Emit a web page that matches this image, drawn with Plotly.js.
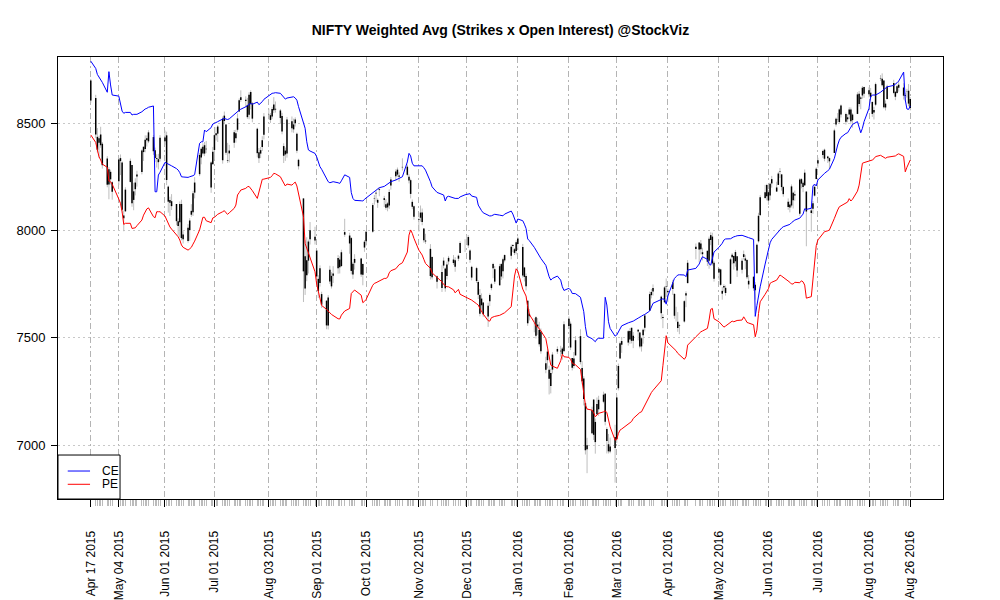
<!DOCTYPE html>
<html>
<head>
<meta charset="utf-8">
<script src="https://cdn.plot.ly/plotly-3.0.1.min.js"></script>
<style>
html,body{margin:0;padding:0;background:#ffffff;}
#chart{width:1000px;height:600px;}
</style>
</head>
<body>
<div id="chart"></div>
<script>
// ---- trading calendar (NSE sessions), one row of day numbers per month ----
const monthKeys = ['2015-04','2015-05','2015-06','2015-07','2015-08','2015-09','2015-10','2015-11','2015-12',
                   '2016-01','2016-02','2016-03','2016-04','2016-05','2016-06','2016-07','2016-08'];
const monthDays = [
  [17,20,21,22,23,24,27,28,29,30],
  [4,5,6,7,8,11,12,13,14,15,18,19,20,21,22,25,26,27,28,29],
  [1,2,3,4,5,8,9,10,11,12,15,16,17,18,19,22,23,24,25,26,29,30],
  [1,2,3,6,7,8,9,10,13,14,15,16,17,20,21,22,23,24,27,28,29,30,31],
  [3,4,5,6,7,10,11,12,13,14,17,18,19,20,21,24,25,26,27,28,31],
  [1,2,3,4,7,8,9,10,11,14,15,16,18,21,22,23,24,28,29,30],
  [1,5,6,7,8,9,12,13,14,15,16,19,20,21,23,26,27,28,29,30],
  [2,3,4,5,6,9,10,13,16,17,18,19,20,23,24,26,27,30],
  [1,2,3,4,7,8,9,10,11,14,15,16,17,18,21,22,23,24,28,29,30,31],
  [1,4,5,6,7,8,11,12,13,14,15,18,19,20,21,22,25,27,28,29],
  [1,2,3,4,5,8,9,10,11,12,15,16,17,18,19,22,23,24,25,26,29],
  [1,2,3,4,8,9,10,11,14,15,16,17,18,21,22,23,28,29,30,31],
  [1,4,5,6,7,8,11,12,13,18,20,21,22,25,26,27,28,29],
  [2,3,4,5,6,9,10,11,12,13,16,17,18,19,20,23,24,25,26,27,30,31],
  [1,2,3,6,7,8,9,10,13,14,15,16,17,20,21,22,23,24,27,28,29,30],
  [1,4,5,7,8,11,12,13,14,15,18,19,20,21,22,25,26,27,28,29],
  [1,2,3,4,5,8,9,10,11,12,16,17,18,19,22,23,24,25,26]
];

// ---- NIFTY OHLC ----
const openVals = [
  8700,8618,8437,8409,8448,8405,8336,8215,8274,8225,
  8230,8338,8317,8070,8090,8227,8306,8143,8193,8252,8273,8391,8380,8431,8416,8436,8375,8338,8333,8335,
  8417,8444,8205,8143,8137,8124,8044,8039,8124,7960,7951,8002,8074,8086,8177,8263,8341,8391,8359,8379,8201,8309,
  8376,8454,8452,8328,8536,8495,8325,8373,8410,8431,8470,8555,8622,8610,8586,8540,8646,8593,8475,8365,8359,8390,8447,
  8542,8538,8532,8561,8568,8560,8534,8394,8373,8360,8510,8472,8500,8451,8330,8150,7730,7862,7860,7960,7954,
  7907,7775,7756,7704,7673,7557,7763,7740,7800,7825,7865,7835,7993,7940,7965,7795,7850,7870,7794,7921,
  7995,7995,8150,8173,8143,8193,8151,8123,8127,8117,8210,8253,8284,8257,8297,8298,8251,8235,8134,8113,
  8054,8084,8084,8010,7949,7788,7877,7787,7732,7860,7823,7788,7873,7865,7862,7869,7895,7935,
  7954,7970,7907,7831,7825,7760,7700,7652,7665,7600,7671,7732,7825,7820,7745,7844,7811,7886,7883,7933,7913,7905,
  7938,7924,7828,7788,7673,7612,7563,7596,7552,7470,7529,7381,7396,7351,7336,7352,7448,7440,7450,7438,
  7589,7566,7406,7369,7418,7508,7359,7310,7195,6999,7055,7212,7014,7144,7167,7202,7239,7075,7004,6994,7038,
  7028,7265,7404,7468,7478,7492,7547,7486,7530,7525,7460,7538,7547,7627,7699,7732,7692,7593,7666,7740,
  7718,7728,7705,7614,7575,7558,7576,7697,7755,7925,7944,7940,7890,7906,7859,7956,7972,7775,
  7822,7819,7719,7742,7709,7752,7876,7881,7857,7880,7818,7877,7860,7863,7766,7785,7722,7801,7950,8072,8152,8213,
  8140,8164,8240,8182,8213,8275,8262,8203,8135,8122,8117,8176,8164,8078,8240,8223,8211,8182,8082,8102,8163,8240,
  8313,8353,8377,8346,8338,8362,8495,8518,8506,8583,8543,8519,8541,8564,8515,8544,8638,8621,8630,8670,
  8654,8643,8600,8562,8587,8709,8708,8700,8574,8614,8688,8647,8641,8680,8667,8628,8648,8652,8614
];
const highVals = [
  8707,8633,8478,8442,8484,8413,8347,8296,8284,8230,
  8340,8355,8323,8093,8202,8336,8306,8223,8244,8279,8379,8391,8444,8444,8468,8446,8387,8356,8358,8445,
  8467,8461,8210,8158,8170,8124,8057,8136,8144,7997,8030,8058,8123,8185,8249,8362,8389,8407,8413,8418,8323,8390,
  8453,8482,8492,8532,8555,8496,8409,8400,8469,8470,8546,8616,8654,8626,8619,8645,8654,8600,8480,8385,8390,8440,8548,
  8569,8548,8577,8622,8602,8567,8549,8407,8387,8530,8532,8522,8528,8457,8335,8150,7955,7969,7958,8040,8018,
  7908,7792,7838,7715,7676,7699,7836,7806,7834,7886,7880,7911,8055,7990,7970,7853,7890,7873,7847,7956,
  7998,8128,8166,8188,8150,8202,8162,8147,8134,8192,8250,8286,8294,8272,8337,8308,8263,8242,8145,8117,
  8060,8117,8103,8010,7985,7937,7880,7791,7838,7875,7828,7855,7882,7886,7876,7888,7950,7960,
  7980,7979,7913,7836,7831,7768,7728,7707,7666,7664,7707,7756,7850,7835,7845,7848,7874,7889,7935,7937,7919,7955,
  7972,7938,7831,7800,7674,7634,7592,7600,7592,7575,7544,7412,7447,7370,7355,7433,7460,7463,7457,7577,
  7600,7576,7406,7434,7508,7540,7391,7321,7197,7034,7179,7215,7124,7222,7230,7249,7243,7083,7052,7035,7095,
  7235,7380,7483,7504,7536,7545,7547,7527,7541,7526,7503,7543,7610,7716,7728,7749,7697,7610,7741,7777,
  7729,7770,7707,7645,7620,7566,7676,7717,7863,7940,7945,7956,7920,7906,7972,7992,7990,7859,
  7823,7822,7737,7750,7744,7873,7895,7884,7910,7880,7871,7907,7887,7867,7793,7786,7760,7940,8083,8165,8213,8218,
  8188,8224,8255,8228,8274,8292,8264,8208,8150,8136,8215,8181,8187,8245,8245,8233,8285,8183,8109,8138,8214,8295,
  8340,8377,8382,8349,8341,8475,8527,8548,8570,8588,8550,8542,8575,8574,8547,8645,8651,8627,8674,8671,
  8668,8665,8601,8577,8690,8725,8733,8700,8607,8680,8703,8651,8681,8696,8687,8642,8661,8683,8622
];
const lowVals = [
  8596,8431,8364,8339,8386,8289,8202,8146,8215,8144,
  8212,8259,8084,7997,8087,8224,8111,8095,8164,8205,8262,8325,8365,8392,8408,8353,8319,8294,8285,8322,
  8400,8212,8084,8068,8096,8025,7977,7968,7955,7940,7944,7952,8064,8068,8150,8254,8309,8350,8347,8361,8176,8309,
  8333,8420,8413,8312,8496,8353,8315,8318,8386,8410,8461,8554,8600,8577,8521,8519,8565,8505,8341,8315,8338,8371,8425,
  8518,8502,8521,8548,8550,8498,8449,8315,8325,8340,8458,8456,8485,8361,8285,7667,7700,7764,7800,7935,7935,
  7769,7686,7739,7639,7540,7539,7751,7730,7756,7799,7800,7830,7971,7892,7796,7775,7818,7784,7745,7901,
  7930,7990,8121,8135,8106,8160,8110,8097,8090,8101,8191,8233,8251,8228,8280,8253,8220,8150,8100,8051,
  7995,8042,8025,7944,7938,7772,7772,7730,7714,7824,7715,7772,7841,7840,7808,7858,7895,7900,
  7937,7919,7850,7768,7756,7681,7600,7630,7598,7551,7648,7722,7778,7751,7744,7770,7777,7852,7866,7900,7886,7889,
  7909,7781,7763,7721,7556,7581,7526,7497,7514,7459,7426,7335,7357,7236,7241,7334,7425,7413,7398,7438,
  7541,7443,7348,7357,7418,7376,7283,7185,6956,6869,7051,7024,6960,7139,7136,7195,7092,6961,6961,6962,6825,
  7010,7255,7404,7430,7464,7472,7474,7452,7488,7451,7436,7473,7530,7625,7684,7697,7587,7545,7662,7690,
  7666,7700,7589,7576,7528,7517,7571,7643,7755,7866,7852,7889,7861,7835,7822,7932,7837,7762,
  7771,7741,7678,7715,7697,7751,7843,7818,7832,7784,7800,7865,7820,7774,7729,7719,7678,7800,7944,8072,8148,8141,
  8120,8142,8200,8181,8213,8245,8186,8158,8097,8085,8108,8103,8139,8069,8197,8179,8208,7927,7995,8078,8159,8239,
  8293,8339,8323,8315,8287,8362,8485,8504,8500,8527,8494,8505,8520,8496,8480,8543,8578,8566,8615,8619,
  8621,8607,8530,8518,8580,8697,8671,8569,8560,8611,8636,8608,8638,8648,8611,8603,8620,8580,8560
];
const closeVals = [
  8606,8448,8377,8430,8398,8305,8214,8286,8239,8181,
  8331,8324,8097,8057,8191,8325,8127,8183,8224,8262,8373,8366,8423,8421,8458,8370,8339,8334,8319,8433,
  8434,8236,8135,8130,8114,8044,8022,8124,7965,7982,8013,8047,8092,8174,8224,8353,8381,8360,8398,8381,8318,8368,
  8445,8444,8485,8522,8511,8363,8328,8360,8459,8454,8523,8608,8609,8604,8529,8633,8589,8522,8361,8337,8375,8421,8532,
  8543,8516,8567,8588,8564,8525,8462,8349,8355,8518,8477,8495,8518,8372,8300,7810,7880,7792,7949,8002,7971,
  7786,7718,7824,7655,7558,7688,7818,7789,7789,7872,7829,7899,7981,7977,7812,7846,7868,7795,7844,7948,
  7950,8119,8152,8177,8130,8189,8143,8107,8108,8180,8238,8275,8261,8251,8295,8260,8233,8171,8111,8065,
  8050,8060,8040,7955,7954,7915,7783,7762,7807,7837,7731,7842,7856,7849,7831,7883,7942,7935,
  7954,7931,7864,7781,7765,7701,7612,7683,7610,7650,7700,7750,7844,7762,7834,7786,7866,7861,7925,7928,7896,7946,
  7963,7791,7784,7741,7568,7601,7563,7510,7562,7536,7437,7351,7436,7309,7276,7422,7436,7437,7425,7563,
  7555,7455,7361,7404,7489,7387,7298,7215,6976,6981,7163,7048,7108,7192,7211,7235,7109,7019,6971,6970,6987,
  7222,7369,7475,7485,7531,7532,7486,7510,7538,7460,7498,7512,7604,7704,7714,7716,7615,7597,7735,7738,
  7713,7758,7603,7614,7546,7555,7671,7708,7850,7914,7912,7913,7899,7855,7962,7979,7847,7850,
  7805,7747,7706,7735,7733,7866,7887,7848,7900,7814,7860,7890,7870,7783,7749,7731,7748,7934,8069,8156,8179,8160,
  8179,8218,8220,8201,8266,8273,8203,8170,8110,8108,8206,8141,8170,8238,8219,8203,8270,8089,8094,8127,8204,8288,
  8328,8371,8335,8337,8323,8467,8521,8519,8565,8541,8508,8528,8565,8510,8541,8635,8590,8615,8666,8638,
  8636,8622,8544,8551,8683,8711,8678,8575,8592,8672,8642,8624,8673,8666,8629,8632,8650,8592,8572
];

// ---- weighted averages: calls (CE) and puts (PE) ----
const ceVals = [
  8790,8756,8728,8716,8702,8691,8645,8741,8679,8632,
  8627,8593,8557,8547,8551,8551,8539,8542,8542,8542,8554,8562,8567,8570,8575,8581,8181,8181,8259,8272,
  8318,8314,8309,8306,8302,8289,8282,8270,8251,8250,8248,8251,8253,8256,8261,8407,8414,8414,8469,8461,8480,8497,
  8500,8505,8508,8520,8523,8520,8518,8521,8542,8550,8554,8561,8566,8576,8581,8590,8593,8589,8599,8587,8593,8601,8612,
  8630,8635,8640,8641,8643,8640,8632,8620,8613,8618,8623,8624,8618,8608,8578,8500,8477,8414,8376,8371,8360,
  8344,8314,8298,8286,8244,8228,8223,8225,8228,8223,8220,8232,8260,8248,8177,8150,8141,8139,8138,8146,
  8152,8177,8184,8192,8197,8200,8206,8211,8217,8223,8228,8236,8239,8244,8251,8320,8360,8348,8314,8302,
  8301,8304,8302,8293,8282,8228,8204,8178,8169,8166,8138,8157,8160,8150,8150,8150,8157,8167,
  8169,8172,8172,8161,8155,8119,8104,8093,8083,8071,8068,8069,8074,8076,8072,8069,8069,8077,8091,8077,8052,8035,
  8054,8046,8030,8010,7961,7953,7922,7908,7894,7881,7870,7838,7808,7785,7769,7777,7788,7769,7738,7721,
  7731,7723,7707,7706,7706,7689,7661,7622,7552,7508,7496,7490,7482,7494,7498,7498,7689,7653,7575,7544,7508,
  7513,7528,7546,7556,7570,7572,7574,7578,7592,7595,7601,7606,7609,7625,7645,7661,7679,7682,7679,7657,
  7695,7761,7777,7785,7793,7794,7793,7785,7816,7824,7844,7863,7878,7866,7845,7839,7875,7900,
  7922,7931,7941,7956,7961,7962,7968,7971,7973,7976,7978,7976,7973,7970,7967,7959,7600,7650,7692,7738,7844,7878,
  7917,7943,7959,7987,7993,8006,8012,8018,8026,8029,8037,8043,8049,8058,8066,8077,8102,8099,8104,8208,8217,8208,
  8236,8262,8267,8279,8286,8337,8376,8399,8422,8435,8453,8456,8469,8483,8495,8508,8484,8456,8477,8508,
  8570,8624,8632,8632,8632,8645,8652,8659,8665,8670,8677,8682,8689,8697,8739,8609,8567,8565,8581
];
const peVals = [
  8446,8411,8376,8344,8329,8310,8295,8231,8228,8216,
  8147,8127,8088,8029,8034,8034,8010,8010,8013,8023,8049,8072,8085,8101,8106,8065,8060,8088,8088,8088,
  8068,8049,8031,8017,8007,7979,7971,7956,7933,7922,7909,7915,7922,7937,7951,8003,8041,8062,8062,8046,8037,8059,
  8062,8068,8076,8088,8093,8083,8076,8083,8104,8119,8166,8177,8189,8197,8204,8206,8197,8186,8150,8177,8204,8239,8240,
  8245,8248,8256,8267,8265,8251,8236,8220,8208,8217,8212,8220,8226,8208,8174,8065,7940,7917,7894,7875,7808,
  7751,7720,7684,7651,7633,7622,7617,7609,7603,7589,7588,7606,7625,7637,7707,7715,7723,7699,7664,7670,
  7679,7745,7754,7757,7761,7766,7777,7777,7782,7803,7813,7822,7831,7841,7850,7900,7979,8003,7987,7964,
  7909,7898,7886,7866,7847,7824,7803,7782,7761,7749,7743,7738,7738,7724,7710,7726,7703,7692,
  7689,7685,7681,7676,7659,7653,7637,7622,7611,7580,7578,7594,7598,7600,7605,7609,7616,7617,7645,7723,7788,7822,
  7811,7727,7712,7695,7645,7609,7572,7556,7552,7544,7532,7496,7458,7412,7373,7368,7358,7393,7424,7412,
  7409,7400,7382,7378,7374,7353,7303,7249,7187,7168,7163,7151,7132,7140,7148,7155,7160,7151,7117,7085,7023,
  7026,7054,7070,7075,7096,7104,7110,7124,7148,7152,7155,7171,7187,7230,7245,7255,7300,7370,7460,7510,
  7477,7455,7451,7440,7428,7420,7400,7412,7466,7505,7524,7528,7532,7544,7583,7633,7637,7589,
  7575,7567,7558,7550,7555,7575,7578,7575,7578,7581,7583,7598,7586,7572,7569,7561,7505,7536,7614,7668,7703,7715,
  7729,7754,7759,7769,7782,7793,7788,7783,7766,7759,7751,7751,7759,7757,7766,7761,7746,7685,7692,7780,7880,7930,
  7956,7987,7995,7999,8003,8057,8080,8096,8111,8116,8127,8133,8149,8138,8146,8184,8212,8267,8314,8317,
  8324,8326,8329,8335,8345,8351,8346,8340,8337,8342,8348,8348,8354,8358,8346,8274,8295,8317,8329
];

// ---- axis ticks ----
const majorTickDates = ['2015-04-17','2015-05-04','2015-06-01','2015-07-01','2015-08-03','2015-09-01','2015-10-01',
  '2015-11-02','2015-12-01','2016-01-01','2016-02-01','2016-03-01','2016-04-01','2016-05-02','2016-06-01',
  '2016-07-01','2016-08-01','2016-08-26'];
const majorTickLabels = ['Apr 17 2015','May 04 2015','Jun 01 2015','Jul 01 2015','Aug 03 2015','Sep 01 2015',
  'Oct 01 2015','Nov 02 2015','Dec 01 2015','Jan 01 2016','Feb 01 2016','Mar 01 2016','Apr 01 2016',
  'May 02 2016','Jun 01 2016','Jul 01 2016','Aug 01 2016','Aug 26 2016'];
const yTickVals = [7000, 7500, 8000, 8500];
const yTickLabels = ['7000', '7500', '8000', '8500'];
const seriesNames = ['CE', 'PE'];
const seriesColors = ['#0000ff', '#ff0000'];

// ---- build ----
const dates = [];
monthKeys.forEach(function (mk, i) {
  monthDays[i].forEach(function (d) { dates.push(mk + '-' + (d < 10 ? '0' + d : '' + d)); });
});
const n = Math.min(dates.length, openVals.length, highVals.length, lowVals.length, closeVals.length,
                   ceVals.length, peVals.length);

const wickX = [], wickY = [], bodyX = [], bodyY = [];
for (let i = 0; i < n; i++) {
  wickX.push(dates[i], dates[i], null);
  wickY.push(lowVals[i], highVals[i], null);
  bodyX.push(dates[i], dates[i], null);
  bodyY.push(openVals[i], closeVals[i], null);
}
const minorDates = dates.slice(0, n).filter(function (d) { return majorTickDates.indexOf(d) < 0; });

// x limits: index range padded by 4% (base-graphics style)
const t0 = Date.parse(dates[0] + 'T00:00:00Z');
const t1 = Date.parse(dates[n - 1] + 'T00:00:00Z');
const pad = (t1 - t0) * 0.04;
function fmt(ms) { return new Date(ms).toISOString().replace('T', ' ').replace('Z', ''); }
const xRange = [fmt(t0 - pad), fmt(t1 + pad)];

// y limits: OHLC range padded by 4%
const yMin = Math.min.apply(null, lowVals.slice(0, n));
const yMax = Math.max.apply(null, highVals.slice(0, n));
const yPad = (yMax - yMin) * 0.04;
const yRange = [yMin - yPad, yMax + yPad];

const traces = [
  {type: 'scatter', mode: 'lines', x: wickX, y: wickY, line: {color: '#bebebe', width: 1},
   hoverinfo: 'skip', showlegend: false, name: 'High-Low'},
  {type: 'scatter', mode: 'lines', x: bodyX, y: bodyY, line: {color: '#000000', width: 1.5},
   hoverinfo: 'skip', showlegend: false, name: 'Open-Close'},
  {type: 'scatter', mode: 'lines', x: dates.slice(0, n), y: ceVals.slice(0, n), name: seriesNames[0],
   line: {color: seriesColors[0], width: 1}},
  {type: 'scatter', mode: 'lines', x: dates.slice(0, n), y: peVals.slice(0, n), name: seriesNames[1],
   line: {color: seriesColors[1], width: 1}}
];

// legend box (bottom-left, inside plot), built in paper coordinates
const L = {x1: 0.0701, y1: 0.0995, lx0: 0.011, lx1: 0.0362, tx: 0.0475, rows: [0.0633, 0.0333]};
const shapes = [
  {type: 'rect', xref: 'paper', yref: 'paper', x0: 0, x1: L.x1, y0: 0, y1: L.y1,
   line: {color: '#000', width: 1}, fillcolor: '#ffffff', layer: 'above'}
];
const annotations = [];
seriesNames.forEach(function (nm, k) {
  shapes.push({type: 'line', xref: 'paper', yref: 'paper', x0: L.lx0, x1: L.lx1, y0: L.rows[k], y1: L.rows[k],
               line: {color: seriesColors[k], width: 1}, layer: 'above'});
  annotations.push({xref: 'paper', yref: 'paper', x: L.tx, y: L.rows[k], xanchor: 'left', yanchor: 'middle',
                    text: nm, showarrow: false, font: {size: 12, color: '#000'}});
});

const layout = {
  width: 1000, height: 600,
  paper_bgcolor: '#ffffff', plot_bgcolor: '#ffffff',
  margin: {l: 58, r: 57, t: 57, b: 101, pad: 0},
  showlegend: false,
  font: {family: '"Liberation Sans", Arial, sans-serif', size: 12, color: '#000'},
  title: {text: '<b>NIFTY Weighted Avg (Strikes x Open Interest) @StockViz</b>',
          font: {size: 14, color: '#000'}, x: 0.5, xref: 'paper', xanchor: 'center',
          y: 0.95, yref: 'container', yanchor: 'middle'},
  xaxis: {
    type: 'date', range: xRange, tickmode: 'array', tickvals: majorTickDates, ticktext: majorTickLabels,
    tickangle: -90, ticks: 'outside', ticklen: 7, tickwidth: 1, tickcolor: '#000',
    ticklabelstandoff: 19,
    showgrid: true, gridcolor: '#b4b4b4', gridwidth: 1, griddash: '6px,3px,2px,3px',
    showline: true, linecolor: '#000', linewidth: 1, mirror: true, zeroline: false,
    tickfont: {size: 12, color: '#000'},
    minor: {tickmode: 'array', tickvals: minorDates, ticks: 'outside', ticklen: 6, tickwidth: 1,
            tickcolor: '#bbbbbb', showgrid: false}
  },
  yaxis: {
    range: yRange, tickmode: 'array', tickvals: yTickVals, ticktext: yTickLabels,
    ticks: 'outside', ticklen: 6, tickwidth: 1, tickcolor: '#000', ticklabelstandoff: 3,
    showgrid: true, gridcolor: '#c8c8c8', gridwidth: 1, griddash: '2px,3px',
    showline: true, linecolor: '#000', linewidth: 1, mirror: true, zeroline: false,
    tickfont: {size: 13, color: '#000'}
  },
  shapes: shapes,
  annotations: annotations
};

Plotly.newPlot('chart', traces, layout, {displayModeBar: false, staticPlot: true});
</script>
</body>
</html>
